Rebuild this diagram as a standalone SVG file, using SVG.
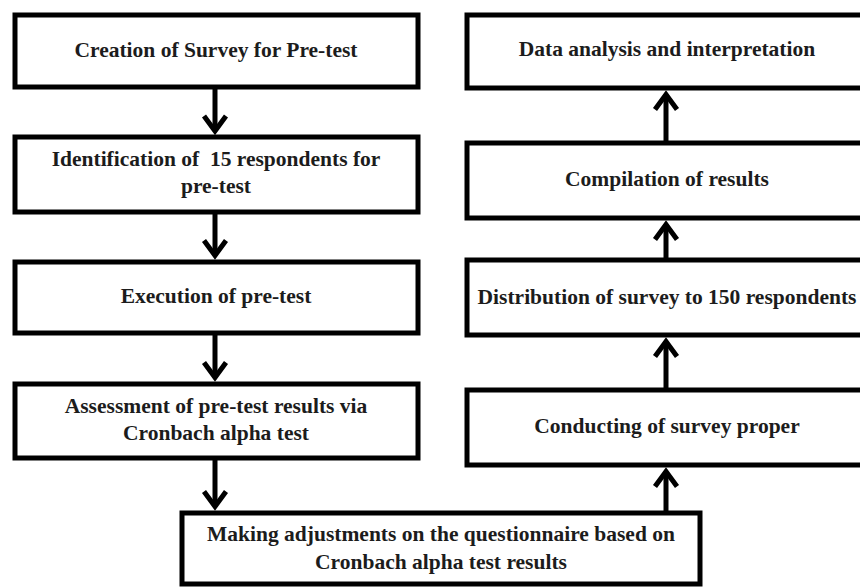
<svg xmlns="http://www.w3.org/2000/svg" width="860" height="587" viewBox="0 0 860 587">
  <style>
    .box { fill: #ffffff; stroke: #000000; stroke-width: 5; }
    .lbl { font-family: "Liberation Serif", "Times New Roman", serif; font-weight: bold; font-size: 21.5px; fill: #1c1c1c; text-anchor: middle; }
    .conn { stroke: #000000; stroke-width: 5; fill: none; }
  </style>
  <defs>
    <marker id="chev" markerUnits="userSpaceOnUse" orient="auto" refX="0" refY="0" markerWidth="40" markerHeight="40" viewBox="-20 -20 40 40" overflow="visible">
      <path d="M -15 -11 L 0 0 L -15 11" fill="none" stroke="#000000" stroke-width="5" stroke-linejoin="miter" stroke-miterlimit="10"/>
    </marker>
  </defs>
  <rect width="860" height="587" fill="#ffffff"/>

  <g id="connectors">
    <line class="conn" x1="215" y1="89" x2="215" y2="131" marker-end="url(#chev)"/>
    <line class="conn" x1="215" y1="214" x2="215" y2="255.5" marker-end="url(#chev)"/>
    <line class="conn" x1="215" y1="335" x2="215" y2="377.5" marker-end="url(#chev)"/>
    <line class="conn" x1="215" y1="460" x2="215" y2="506.5" marker-end="url(#chev)"/>
    <line class="conn" x1="666" y1="511" x2="666" y2="471.5" marker-end="url(#chev)"/>
    <line class="conn" x1="666" y1="388" x2="666" y2="341.5" marker-end="url(#chev)"/>
    <line class="conn" x1="666" y1="258" x2="666" y2="224.5" marker-end="url(#chev)"/>
    <line class="conn" x1="666" y1="141" x2="666" y2="94.5" marker-end="url(#chev)"/>
  </g>

  <g id="n1">
    <rect class="box" x="15" y="15" width="403" height="72"/>
    <text class="lbl" x="216" y="57">Creation of Survey for Pre-test</text>
  </g>
  <g id="n2">
    <rect class="box" x="15" y="137" width="403" height="75"/>
    <text class="lbl" x="216" y="166" xml:space="preserve">Identification of  15 respondents for</text>
    <text class="lbl" x="216" y="193">pre-test</text>
  </g>
  <g id="n3">
    <rect class="box" x="15" y="262" width="403" height="71"/>
    <text class="lbl" x="216" y="303">Execution of pre-test</text>
  </g>
  <g id="n4">
    <rect class="box" x="15" y="384" width="403" height="74"/>
    <text class="lbl" x="216" y="413">Assessment of pre-test results via</text>
    <text class="lbl" x="216" y="440">Cronbach alpha test</text>
  </g>
  <g id="n5">
    <rect class="box" x="182" y="513" width="518" height="71"/>
    <text class="lbl" x="441" y="541">Making adjustments on the questionnaire based on</text>
    <text class="lbl" x="441" y="569">Cronbach alpha test results</text>
  </g>
  <g id="n6">
    <rect class="box" x="467" y="390" width="410" height="75"/>
    <text class="lbl" x="667" y="433">Conducting of survey proper</text>
  </g>
  <g id="n7">
    <rect class="box" x="467" y="260" width="410" height="75"/>
    <text class="lbl" x="667" y="304">Distribution of survey to 150 respondents</text>
  </g>
  <g id="n8">
    <rect class="box" x="467" y="143" width="410" height="75"/>
    <text class="lbl" x="667" y="186">Compilation of results</text>
  </g>
  <g id="n9">
    <rect class="box" x="467" y="15" width="410" height="73"/>
    <text class="lbl" x="667" y="56">Data analysis and interpretation</text>
  </g>
</svg>
